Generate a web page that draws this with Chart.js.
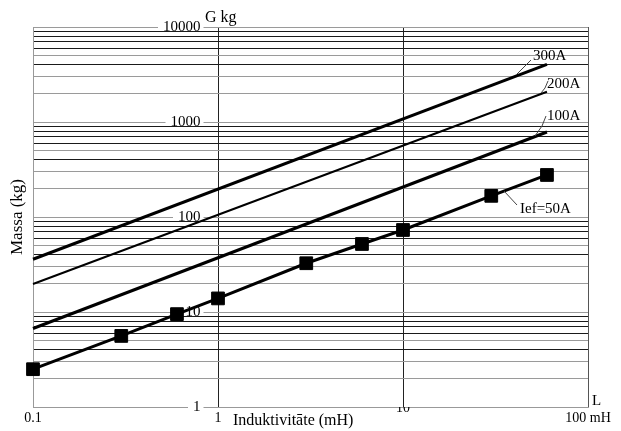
<!DOCTYPE html>
<html><head><meta charset="utf-8">
<script src="https://cdn.jsdelivr.net/npm/chart.js@4/dist/chart.umd.min.js"></script>
<style>html,body{margin:0;padding:0;background:#fff;}</style>
</head><body>
<canvas id="c" width="621" height="431"></canvas>
<script>
// ---- data ----
const inductance50 = [0.1, 0.3, 0.6, 1, 3, 6, 10, 30, 60];
const mass50 = [2.5, 5.6, 9.5, 13.9, 32.6, 52, 73, 167, 277];
const inductanceLines = [0.1, 60];
const mass100 = [6.7, 785];
const mass200 = [19.7, 2080];
const mass300 = [35.9, 4050];
const seriesNames = ['Ief=50A', '100A', '200A', '300A'];
const xTickValues = [0.1, 1, 10, 100];
const xTickLabels = ['0.1', '1', '10', '100 mH'];
const yDecades = [1, 10, 100, 1000, 10000];
const yTickLabels = ['1', '10', '100', '1000', '10000'];
const yMinorSteps = [1, 2, 3, 4, 5, 6, 7, 8, 9];

const SERIF = "'Liberation Serif', 'DejaVu Serif', serif";

const yGridValues = [];
yDecades.slice(0, -1).forEach(d => yMinorSteps.forEach(m => yGridValues.push(d * m)));
yGridValues.push(yDecades[yDecades.length - 1]);

function sig(v) { return Math.round(v / Math.pow(10, Math.floor(Math.log10(v) + 1e-9))); }

const annotations = [
  { text: seriesNames[3], x: 533, y: 56, lead: [[516, 75], [531, 60]] },
  { text: seriesNames[2], x: 547, y: 84, lead: [[541, 93], [545, 88], [548, 81]] },
  { text: seriesNames[1], x: 547, y: 116, lead: [[535, 136], [542, 126], [546, 116]] },
  { text: seriesNames[0], x: 520, y: 209, lead: [[504, 191], [517, 205]] },
  { text: 'G kg', x: 205, y: 18, size: 16 },
  { text: 'L', x: 592, y: 401, size: 15 },
  { text: 'Induktivitāte (mH)', x: 233, y: 421, size: 16 }
];

const annotationPlugin = {
  id: 'annot',
  afterDatasetsDraw(chart) {
    const ctx = chart.ctx;
    ctx.save();
    annotations.forEach(a => {
      if (a.lead) {
        ctx.beginPath();
        ctx.strokeStyle = '#444';
        ctx.lineWidth = 1;
        a.lead.forEach((p, i) => i ? ctx.lineTo(p[0], p[1]) : ctx.moveTo(p[0], p[1]));
        ctx.stroke();
      }
      ctx.font = (a.size || 15) + 'px ' + SERIF;
      ctx.fillStyle = '#000';
      ctx.textAlign = 'left';
      ctx.textBaseline = 'middle';
      ctx.fillText(a.text, a.x, a.y);
    });
    ctx.restore();
  }
};

const lineDs = (label, ys, w) => ({
  label,
  data: inductanceLines.map((x, i) => ({ x, y: ys[i] })),
  borderColor: '#000', backgroundColor: '#000', borderWidth: w,
  pointRadius: 0, clip: false
});

new Chart(document.getElementById('c'), {
  type: 'line',
  data: {
    datasets: [
      lineDs(seriesNames[3], mass300, 3),
      lineDs(seriesNames[2], mass200, 2),
      lineDs(seriesNames[1], mass100, 3),
      {
        label: seriesNames[0],
        data: inductance50.map((x, i) => ({ x, y: mass50[i] })),
        borderColor: '#000', backgroundColor: '#000', borderWidth: 3,
        pointStyle: 'rect', pointRadius: 9, pointBorderWidth: 1,
        pointBackgroundColor: '#000', pointBorderColor: '#000', clip: false
      }
    ]
  },
  options: {
    responsive: false,
    devicePixelRatio: 1,
    animation: false,
    layout: { padding: { top: 27, right: 33, bottom: 1, left: 0 } },
    plugins: { legend: { display: false }, tooltip: { enabled: false } },
    elements: { line: { tension: 0 } },
    scales: {
      x: {
        type: 'logarithmic', position: 'bottom', min: 0.1, max: 100,
        afterBuildTicks: s => { s.ticks = xTickValues.map(v => ({ value: v })); },
        grid: {
          drawTicks: false, lineWidth: 1,
          color: c => {
            const v = c.tick ? c.tick.value : 0;
            if (v === 1 || v === 10) return '#222';
            if (v === 100) return '#555';
            return '#999';
          }
        },
        border: { color: '#999' },
        ticks: {
          autoSkip: false, maxRotation: 0, minRotation: 0, padding: 0, color: '#000',
          callback: (v, i) => xTickLabels[i],
          font: c => ({ family: SERIF, size: 14, lineHeight: (c.tick && c.tick.value === 10) ? '3px' : '23px' })
        }
      },
      y: {
        type: 'logarithmic', position: 'left', min: 1, max: 10000,
        afterBuildTicks: s => { s.ticks = yGridValues.map(v => ({ value: v, major: yDecades.includes(v) })); },
        afterFit: s => { s.paddingTop = 0; s.paddingBottom = 0; s.width = 33; },
        grid: {
          drawTicks: false, lineWidth: 1,
          color: c => {
            const v = c.tick ? c.tick.value : 1;
            const s = sig(v);
            return (s === 1 || s === 2 || s === 3 || s === 5) ? '#9a9a9a' : '#1a1a1a';
          }
        },
        border: { color: '#999' },
        ticks: {
          autoSkip: false, mirror: true, crossAlign: 'far', padding: 130, color: '#000',
          callback: v => { const i = yDecades.indexOf(v); return i >= 0 ? yTickLabels[i] : ''; },
          font: { family: SERIF, size: 15, lineHeight: '6px' },
          showLabelBackdrop: c => !!(c.tick && yDecades.includes(c.tick.value)),
          backdropColor: '#fff',
          backdropPadding: { left: 5, right: 3, top: 1, bottom: 1 }
        },
        title: {
          display: true, text: 'Massa (kg)', color: '#000',
          font: { family: SERIF, size: 17 },
          padding: { top: 7, bottom: 5.6 }
        }
      }
    }
  },
  plugins: [annotationPlugin]
});
</script>
</body></html>
